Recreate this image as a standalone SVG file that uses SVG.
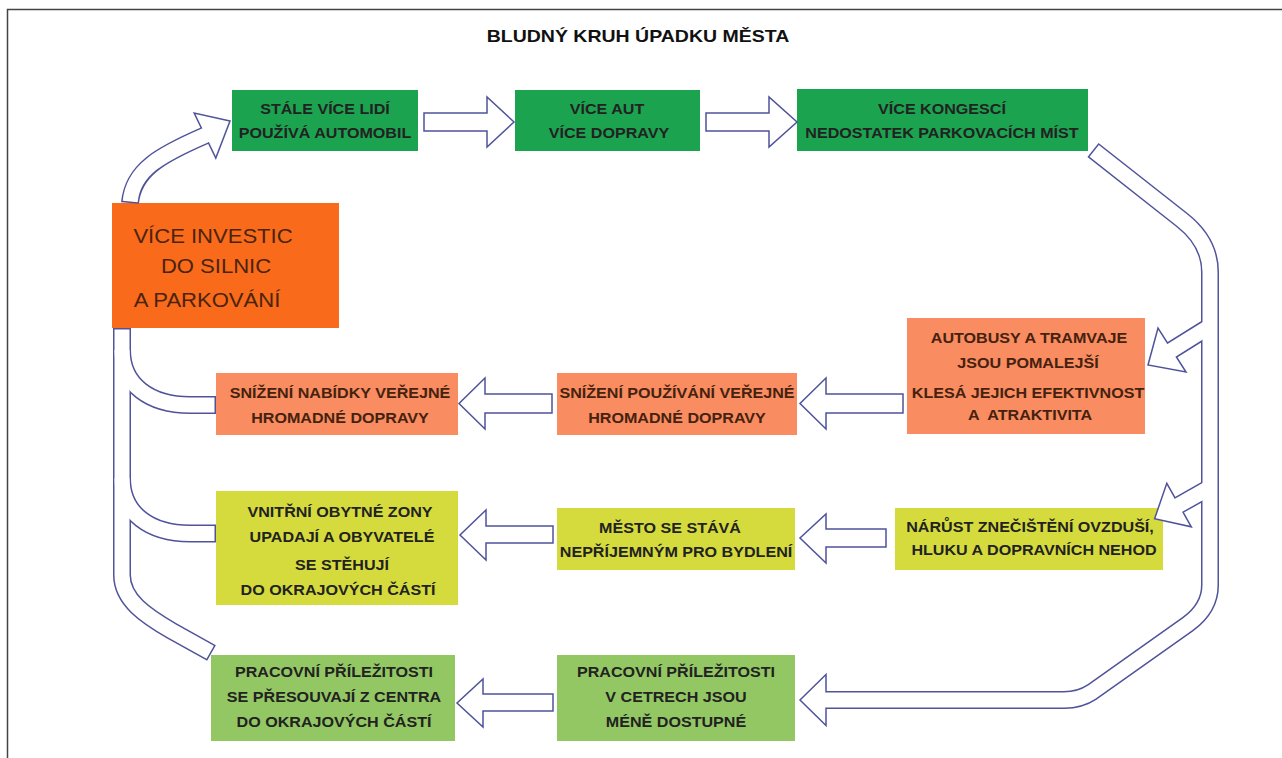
<svg xmlns="http://www.w3.org/2000/svg" width="1282" height="758" viewBox="0 0 1282 758">
<style>
.t{font-family:"Liberation Sans",Arial,sans-serif;font-weight:bold;font-size:14px;text-anchor:middle;fill:#222}
.tb{fill:#45220f}
.big{font-family:"Liberation Sans",Arial,sans-serif;font-size:21px;text-anchor:middle;fill:#4a2410}
.title{font-family:"Liberation Sans",Arial,sans-serif;font-weight:bold;font-size:16px;text-anchor:middle;fill:#111}
.g1{fill:#1ca350}.or{fill:#f96b1a}.sa{fill:#f98c60}.ye{fill:#d5db3d}.g2{fill:#93c764}
.bo{fill:none;stroke:#4f539a;stroke-width:18;stroke-linejoin:round}
.bi{fill:none;stroke:#fff;stroke-width:15;stroke-linejoin:round}
.ar{fill:#fff;stroke:#4f539a;stroke-width:1.5;stroke-linejoin:miter}
</style>
<rect width="1282" height="758" fill="#fff"/>
<path d="M7.5,758 V9.5 H1282" fill="none" stroke="#444" stroke-width="1.5"/>
<text class="title" transform="translate(638,42) scale(1.22,1)">BLUDNÝ KRUH ÚPADKU MĚSTA</text>

<g id="n1"><rect class="g1" x="232" y="90" width="186" height="61"/>
<text class="t" transform="translate(325,114) scale(1.15,1)">STÁLE VÍCE LIDÍ</text>
<text class="t" transform="translate(325,138) scale(1.15,1)">POUŽÍVÁ AUTOMOBIL</text></g>
<g id="n2"><rect class="g1" x="515" y="90" width="185" height="61"/>
<text class="t" transform="translate(607,114) scale(1.15,1)">VÍCE AUT</text>
<text class="t" transform="translate(609,138) scale(1.15,1)">VÍCE DOPRAVY</text></g>
<g id="n3"><rect class="g1" x="797" y="89" width="291" height="62"/>
<text class="t" transform="translate(942,114) scale(1.15,1)">VÍCE KONGESCÍ</text>
<text class="t" transform="translate(942,138) scale(1.15,1)">NEDOSTATEK PARKOVACÍCH MÍST</text></g>
<g id="n4"><rect class="or" x="112" y="203" width="227" height="125"/>
<text class="big" transform="translate(213,243) scale(1.05,1)">VÍCE INVESTIC</text>
<text class="big" transform="translate(216,273) scale(1.05,1)">DO SILNIC</text>
<text class="big" transform="translate(207,307) scale(1.05,1)">A PARKOVÁNÍ</text></g>
<g id="n5"><rect class="sa" x="907" y="318" width="238" height="116"/>
<text class="t tb" transform="translate(1029,343) scale(1.15,1)">AUTOBUSY A TRAMVAJE</text>
<text class="t tb" transform="translate(1028,368) scale(1.15,1)">JSOU POMALEJŠÍ</text>
<text class="t tb" transform="translate(1028,398) scale(1.15,1)">KLESÁ JEJICH EFEKTIVNOST</text>
<text class="t tb" xml:space="preserve" transform="translate(1030,420) scale(1.15,1)">A  ATRAKTIVITA</text></g>
<g id="n6"><rect class="sa" x="557" y="373" width="240" height="62"/>
<text class="t tb" transform="translate(677,398) scale(1.15,1)">SNÍŽENÍ POUŽÍVÁNÍ VEŘEJNÉ</text>
<text class="t tb" transform="translate(677,423) scale(1.15,1)">HROMADNÉ DOPRAVY</text></g>
<g id="n7"><rect class="sa" x="216" y="373" width="242" height="62"/>
<text class="t tb" transform="translate(340,398) scale(1.15,1)">SNÍŽENÍ NABÍDKY VEŘEJNÉ</text>
<text class="t tb" transform="translate(340,423) scale(1.15,1)">HROMADNÉ DOPRAVY</text></g>
<g id="n8"><rect class="ye" x="895" y="508" width="268" height="62"/>
<text class="t" transform="translate(1030,532) scale(1.15,1)">NÁRŮST ZNEČIŠTĚNÍ OVZDUŠÍ,</text>
<text class="t" transform="translate(1034,555) scale(1.15,1)">HLUKU A DOPRAVNÍCH NEHOD</text></g>
<g id="n9"><rect class="ye" x="557" y="508" width="238" height="62"/>
<text class="t" transform="translate(670,533) scale(1.15,1)">MĚSTO SE STÁVÁ</text>
<text class="t" transform="translate(676,557) scale(1.15,1)">NEPŘÍJEMNÝM PRO BYDLENÍ</text></g>
<g id="n10"><rect class="ye" x="216" y="491" width="242" height="114"/>
<text class="t" transform="translate(340,517) scale(1.15,1)">VNITŘNÍ OBYTNÉ ZONY</text>
<text class="t" transform="translate(342,542) scale(1.15,1)">UPADAJÍ A OBYVATELÉ</text>
<text class="t" transform="translate(342,570) scale(1.15,1)">SE STĚHUJÍ</text>
<text class="t" transform="translate(338,595) scale(1.15,1)">DO OKRAJOVÝCH ČÁSTÍ</text></g>
<g id="n11"><rect class="g2" x="557" y="655" width="238" height="86"/>
<text class="t" transform="translate(676,677) scale(1.15,1)">PRACOVNÍ PŘÍLEŽITOSTI</text>
<text class="t" transform="translate(676,702) scale(1.15,1)">V CETRECH JSOU</text>
<text class="t" transform="translate(676,727) scale(1.15,1)">MÉNĚ DOSTUPNÉ</text></g>
<g id="n12"><rect class="g2" x="211" y="655" width="244" height="86"/>
<text class="t" transform="translate(334,677) scale(1.15,1)">PRACOVNÍ PŘÍLEŽITOSTI</text>
<text class="t" transform="translate(334,702) scale(1.15,1)">SE PŘESOUVAJÍ Z CENTRA</text>
<text class="t" transform="translate(334,727) scale(1.15,1)">DO OKRAJOVÝCH ČÁSTÍ</text></g>

<g id="connectors">
<g class="bo">
<path d="M1093,150 L1182,220 Q1210,242 1210,272 L1210,585 Q1210,608 1188,624 L1092,692 Q1080,700 1064,700 L826,700"/>
<path d="M1212,325 L1172,350"/>
<path d="M1212,486.4 L1179,505"/>
<path d="M122,328 L122,575 C122,600 146,616 172,631 L211.5,653"/>
<path d="M216,405 L190,405 C150,405 122,385 122,350"/>
<path d="M216,533.5 L190,533.5 C150,533.5 122,513.5 122,478.5"/>
<path d="M130,203 C133,170 160,155 205,135.5"/>
</g>
<polygon class="ar" points="800,700 826,674.5 826,725.5"/>
<polygon class="ar" points="1148,365 1158,328 1186,372"/>
<polygon class="ar" points="1154.6,518.7 1166.8,483.3 1191.3,526.8"/>
<polygon class="ar" points="230,121 194.2,113 215.8,158"/>
<g class="bi">
<path d="M1094.2,150.9 L1182,220 Q1210,242 1210,272 L1210,585 Q1210,608 1188,624 L1092,692 Q1080,700 1064,700 L822,700"/>
<path d="M1212,325 L1168.6,352.1"/>
<path d="M1212,486.4 L1175.5,507"/>
<path d="M122,329.5 L122,575 C122,600 146,616 172,631 L210.2,652.3"/>
<path d="M214.5,405 L190,405 C150,405 122,385 122,350"/>
<path d="M214.5,533.5 L190,533.5 C150,533.5 122,513.5 122,478.5"/>
<path d="M130.2,201.5 C133,170 160,155 205,135.5 L208.6,133.8"/>
</g>
<polygon class="ar" points="424,113 487,113 487,97 514,122 487,147 487,131 424,131"/>
<polygon class="ar" points="706,113 769,113 769,97 797,122 769,147 769,131 706,131"/>
<polygon class="ar" points="552,394 485,394 485,378 459,403.5 485,429 485,413 552,413"/>
<polygon class="ar" points="903,394 826,394 826,378 800,403.5 826,429 826,413 903,413"/>
<polygon class="ar" points="553,526 486,526 486,510 460,535 486,560 486,543 553,543"/>
<polygon class="ar" points="886,529 826,529 826,514 800,538 826,563 826,547 886,547"/>
<polygon class="ar" points="553,694 483,694 483,679 457,703 483,727 483,711 553,711"/>
</g>
</svg>
